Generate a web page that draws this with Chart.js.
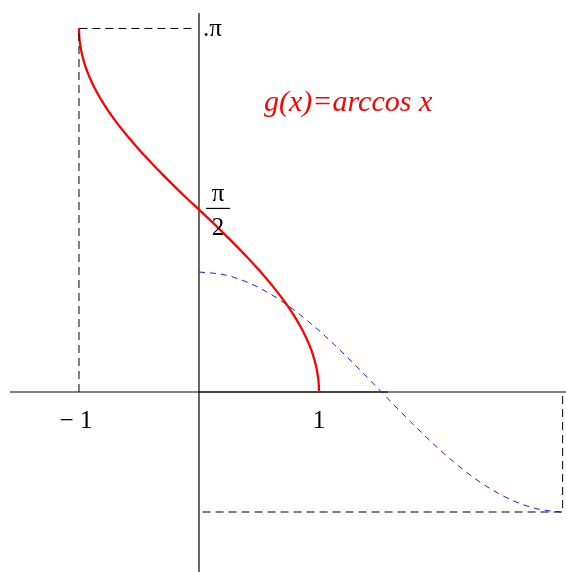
<!DOCTYPE html>
<html>
<head>
<meta charset="utf-8">
<script src="https://cdn.jsdelivr.net/npm/chart.js@4/dist/chart.umd.min.js"></script>
<style>
  html, body { margin: 0; padding: 0; background: #fff; }
  canvas { display: block; }
</style>
</head>
<body>
<canvas id="arccos_chart" width="566" height="572"></canvas>
<script>
// g(x) = arccos x, sampled on [-1, 1] (denser near the ends where it is steep)
const arccos_x = [-1, -0.998, -0.99, -0.98, -0.96, -0.94, -0.92, -0.89, -0.85, -0.8, -0.75, -0.7, -0.6, -0.5, -0.4, -0.3, -0.2, -0.1,
                  0, 0.1, 0.2, 0.3, 0.4, 0.5, 0.6, 0.7, 0.75, 0.8, 0.85, 0.89, 0.92, 0.94, 0.96, 0.98, 0.99, 0.998, 1];
const arccos_y = [3.032, 2.971, 2.895, 2.838, 2.758, 2.696, 2.643, 2.575, 2.496, 2.411, 2.334, 2.264, 2.137, 2.021, 1.913, 1.81, 1.71, 1.613,
                  1.52, 1.426, 1.328, 1.228, 1.125, 1.016, 0.899, 0.772, 0.701, 0.624, 0.538, 0.459, 0.391, 0.338, 0.275, 0.194, 0.137, 0.061, 0];

// cos x on [0, pi]
const cos_x = [0, 0.2, 0.4, 0.6, 0.8, 1.0, 1.2, 1.4, 1.6, 1.8, 2.0, 2.2, 2.4, 2.6, 2.8, 3.0, 3.03];
const cos_y = [1.0, 0.979, 0.916, 0.814, 0.677, 0.512, 0.325, 0.124, -0.082, -0.285, -0.476, -0.646, -0.789, -0.898, -0.969, -0.999, -1.0];

// dashed guide lines to (-1, pi) and (pi, -1)
const guide_left_x = [-1, -1, -0.05];
const guide_left_y = [0, 3.03, 3.03];
const guide_right_x = [0.03, 3.03, 3.03];
const guide_right_y = [-1, -1, 0];

const PI_Y = 3.03;
const HALF_PI_Y = 1.535;

function toPoints(xs, ys){
    return xs.map((x, i) => ({x: x, y: ys[i]}));
}

const serif = '"Liberation Serif", "DejaVu Serif", serif';

// axes through the origin
const axesPlugin = {
    id: 'axes',
    beforeDatasetsDraw(chart){
        const ctx = chart.ctx;
        const xs = chart.scales.x, ys = chart.scales.y;
        const x0 = xs.getPixelForValue(0);
        const y0 = ys.getPixelForValue(0);
        ctx.save();
        ctx.strokeStyle = '#808080';
        ctx.lineWidth = 2;
        ctx.beginPath();
        ctx.moveTo(10, y0);
        ctx.lineTo(chart.width, y0);
        ctx.stroke();
        ctx.strokeStyle = '#444';
        ctx.beginPath();
        ctx.moveTo(x0, y0);
        ctx.lineTo(xs.getPixelForValue(1.575), y0);
        ctx.stroke();
        ctx.strokeStyle = '#000';
        ctx.lineWidth = 1.2;
        ctx.beginPath();
        ctx.moveTo(x0, 13);
        ctx.lineTo(x0, chart.height);
        ctx.stroke();
        ctx.restore();
    }
};

// tick labels and function name
const labelsPlugin = {
    id: 'labels',
    afterDraw(chart){
        const ctx = chart.ctx;
        const xs = chart.scales.x, ys = chart.scales.y;
        const x0 = xs.getPixelForValue(0);
        const y0 = ys.getPixelForValue(0);
        ctx.save();
        ctx.fillStyle = '#000';
        ctx.font = '25px ' + serif;
        ctx.textBaseline = 'alphabetic';
        ctx.textAlign = 'center';
        ctx.fillText('\u2212 1', xs.getPixelForValue(-1) - 3, y0 + 36);
        ctx.fillText('1', xs.getPixelForValue(1), y0 + 36);

        ctx.textAlign = 'left';
        ctx.fillText('.\u03c0', x0 + 4, ys.getPixelForValue(PI_Y) + 8);

        const hx = x0 + 19;
        const hy = ys.getPixelForValue(HALF_PI_Y);
        ctx.textAlign = 'center';
        ctx.fillText('\u03c0', hx, hy - 7);
        ctx.fillText('2', hx, hy + 27);
        ctx.fillRect(hx - 12, hy, 24, 1.2);

        ctx.fillStyle = '#ff0000';
        ctx.font = 'italic 30px ' + serif;
        ctx.textAlign = 'left';
        ctx.fillText('g(x)=arccos x', 264, 111);
        ctx.restore();
    }
};

const ctx = document.getElementById('arccos_chart').getContext('2d');
const arccos_chart = new Chart(ctx, {
    type: 'scatter',
    data: {
        datasets: [
            {
                data: toPoints(guide_left_x, guide_left_y),
                showLine: true,
                borderColor: '#000',
                borderWidth: 1,
                borderDash: [8, 5],
                pointRadius: 0
            },
            {
                data: toPoints(guide_right_x, guide_right_y),
                showLine: true,
                borderColor: '#000',
                borderWidth: 1,
                borderDash: [8, 5],
                pointRadius: 0
            },
            {
                data: toPoints(cos_x, cos_y),
                showLine: true,
                borderColor: '#1a1aff',
                borderWidth: 1,
                borderDash: [6, 5],
                cubicInterpolationMode: 'monotone',
                pointRadius: 0
            },
            {
                data: toPoints(arccos_x, arccos_y),
                showLine: true,
                borderColor: '#ff0000',
                borderWidth: 2.3,
                cubicInterpolationMode: 'monotone',
                pointRadius: 0
            }
        ]
    },
    options: {
        responsive: false,
        animation: false,
        layout: { padding: 0 },
        plugins: {
            legend: { display: false },
            tooltip: { enabled: false }
        },
        scales: {
            x: { type: 'linear', min: -1.658, max: 3.058, display: false },
            y: { type: 'linear', min: -1.5, max: 3.267, display: false }
        }
    },
    plugins: [axesPlugin, labelsPlugin]
});
</script>
</body>
</html>
